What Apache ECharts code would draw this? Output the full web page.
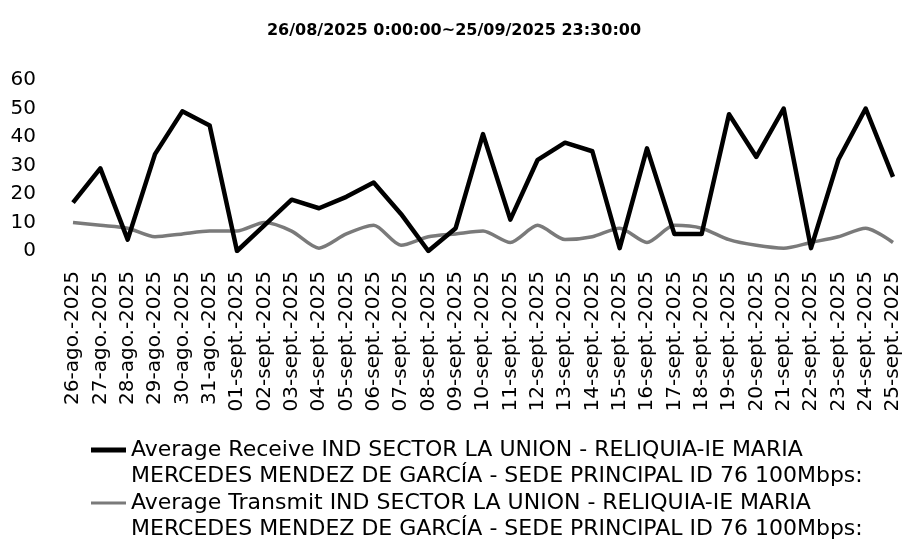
<!DOCTYPE html>
<html>
<head>
<meta charset="utf-8">
<script src="https://cdn.jsdelivr.net/npm/echarts@6/dist/echarts.min.js"></script>
<style>
  html, body { margin: 0; padding: 0; background: #fff; }
  #chart { width: 908px; height: 539px; }
</style>
</head>
<body>
<div id="chart"></div>
<script>
const days = [
  "26-ago.-2025", "27-ago.-2025", "28-ago.-2025", "29-ago.-2025", "30-ago.-2025", "31-ago.-2025",
  "01-sept.-2025", "02-sept.-2025", "03-sept.-2025", "04-sept.-2025", "05-sept.-2025",
  "06-sept.-2025", "07-sept.-2025", "08-sept.-2025", "09-sept.-2025", "10-sept.-2025",
  "11-sept.-2025", "12-sept.-2025", "13-sept.-2025", "14-sept.-2025", "15-sept.-2025",
  "16-sept.-2025", "17-sept.-2025", "18-sept.-2025", "19-sept.-2025", "20-sept.-2025",
  "21-sept.-2025", "22-sept.-2025", "23-sept.-2025", "24-sept.-2025", "25-sept.-2025"
]

const receive = [17, 29, 4, 34, 49, 44, 0, 9, 18, 15, 19, 24, 13, 0, 8, 41,
  11, 32, 38, 35, 1, 36, 6, 6, 48, 33, 50, 1, 32, 50, 26]

const transmit = [10, 9, 8, 5, 6, 7, 7, 10, 7, 1, 6, 9, 2, 5, 6, 7,
  3, 9, 4, 5, 8, 3, 9, 8, 4, 2, 1, 3, 5, 8, 3]

const receiveName = "Average Receive IND SECTOR LA UNION - RELIQUIA-IE MARIA\nMERCEDES MENDEZ DE GARCÍA - SEDE PRINCIPAL ID 76 100Mbps:"
const transmitName = "Average Transmit IND SECTOR LA UNION - RELIQUIA-IE MARIA\nMERCEDES MENDEZ DE GARCÍA - SEDE PRINCIPAL ID 76 100Mbps:"

const font = "DejaVu Sans"
const lineH = 26

// the blank first line keeps the legend icon level with the first text line
function legendFor(name, top, thick) {
  return {
    left: 86,
    top: top,
    icon: "rect",
    itemWidth: 35,
    itemHeight: thick,
    formatter: (n) => "\n" + n,
    textStyle: { fontFamily: font, fontSize: 22, color: "#000", lineHeight: lineH },
    data: [name]
  }
}

let chart = echarts.init(document.getElementById("chart"))
chart.setOption({
  animation: false,
  textStyle: { fontFamily: font, color: "#000" },
  title: {
    left: "center",
    top: 18,
    text: "26/08/2025 0:00:00~25/09/2025 23:30:00",
    textStyle: { fontFamily: font, fontSize: 16, fontWeight: "bold", color: "#000" }
  },
  grid: { left: 73, right: 15, top: 80, bottom: 288 },
  legend: [
    legendFor(receiveName, 406, 5),
    legendFor(transmitName, 459, 3)
  ],
  xAxis: {
    type: "category",
    boundaryGap: false,
    data: days,
    axisLine: { show: false },
    axisTick: { show: false },
    axisLabel: { rotate: 90, interval: 0, fontSize: 20, margin: 20, color: "#000" }
  },
  yAxis: {
    type: "value",
    min: 0,
    max: 60,
    interval: 10,
    axisLine: { show: false },
    axisTick: { show: false },
    splitLine: { show: false },
    axisLabel: { fontSize: 20, margin: 37, color: "#000" }
  },
  series: [
    {
      name: transmitName,
      type: "line",
      data: transmit,
      smooth: 0.25,
      symbol: "none",
      itemStyle: { color: "#7a7a7a" },
      lineStyle: { color: "#7a7a7a", width: 3.5 }
    },
    {
      name: receiveName,
      type: "line",
      data: receive,
      symbol: "none",
      itemStyle: { color: "#000" },
      lineStyle: { color: "#000", width: 4.5, join: "round" }
    }
  ]
})
</script>
</body>
</html>
